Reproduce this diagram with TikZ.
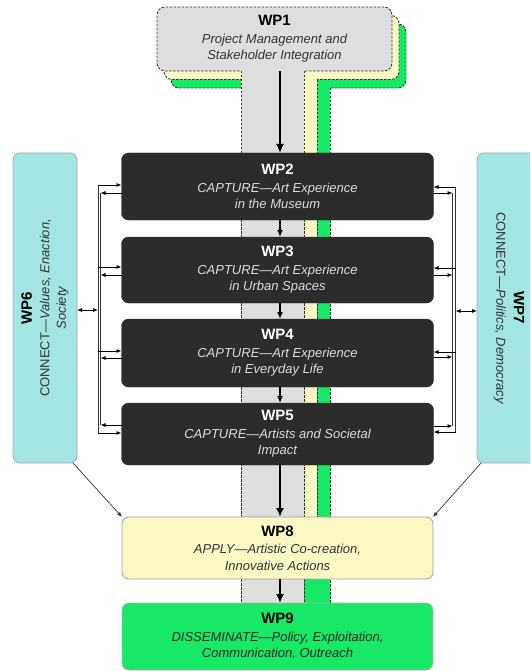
\documentclass[tikz,border=0pt]{standalone}
\usepackage{fontspec}
\setmainfont{Liberation Sans}
\usetikzlibrary{arrows.meta,calc}
\definecolor{wpgray}{HTML}{DEDEDE}
\definecolor{wpyellow}{HTML}{FBF8C4}
\definecolor{wpgreen}{HTML}{17E865}
\definecolor{wpcyan}{HTML}{A2E5E3}
\definecolor{wpdark}{HTML}{2C2C2C}
\definecolor{wpline}{HTML}{333333}
\definecolor{wpsubgray}{HTML}{DDDDDD}
\newcommand{\WPtitle}[1]{{\bfseries\fontsize{15}{18}\selectfont #1}}
\newcommand{\WPsub}{\itshape\fontsize{13}{16.5}\selectfont}
\begin{document}
\begin{tikzpicture}[x=1pt,y=-1pt,
  every node/.style={inner sep=0pt,outer sep=0pt},
  wptext/.style={align=center,font=\fontsize{13}{16.5}\selectfont},
  dashln/.style={draw=wpline,line width=0.9pt,dash pattern=on 2.5pt off 1.5pt},
  wponebox/.style={dashln,rounded corners=8pt,minimum width=235pt,minimum height=64pt},
  darkbox/.style={wptext,draw=wpdark,fill=wpdark,rounded corners=7pt,minimum width=312pt,text=white},
  lightbox/.style={wptext,draw=gray!75,line width=0.8pt,rounded corners=7pt,minimum width=311pt},
  sidebox/.style={draw=gray!70,line width=0.8pt,fill=wpcyan,rounded corners=7pt,minimum width=64pt,minimum height=310pt},
  busln/.style={draw=wpline,line width=0.8pt},
  sarr/.style={draw=black,line width=0.8pt,-{Latex[length=5pt,width=4pt]}},
  darr/.style={draw=black,line width=0.8pt,{Latex[length=5pt,width=4pt]}-{Latex[length=5pt,width=4pt]}},
  flowthin/.style={draw=black,line width=1.3pt,-{Latex[length=7pt,width=6pt]}},
  flowthick/.style={draw=black,line width=2.4pt,-{Latex[length=9pt,width=8pt]}},
  diag/.style={draw=wpline,line width=0.7pt,-{Latex[length=5pt,width=4pt]}}
]
\useasboundingbox (0,0) rectangle (530,671);
\clip (0,0) rectangle (530,671);

% layered WP1 backgrounds
\node[wponebox,fill=wpgreen] (wp1g) at (288.5,56) {};
\fill[wpgreen] (267,87) rectangle (330,603);
\draw[dashln] (267,88) -- (267,603) (330,88) -- (330,603);
\node[wponebox,fill=wpyellow] (wp1y) at (281.5,47.5) {};
\fill[wpyellow] (254,79) rectangle (317,517);
\draw[dashln] (254,80) -- (254,517) (317,80) -- (317,517);
\node[wponebox,fill=wpgray] (wp1) at (274.5,39) {};
\fill[wpgray] (241,70) rectangle (304,603);
\draw[dashln] (241,71) -- (241,603) (304,71) -- (304,603);
\node[wptext,text=black] (wp1t) at (274.5,39)
  {\WPtitle{WP1}\\[1pt] \WPsub\color{wpline}Project Management and\\ \WPsub\color{wpline}Stakeholder Integration};

% CAPTURE boxes
\node[darkbox,minimum height=67pt] (wp2) at (277.5,186.5)
  {\WPtitle{WP2}\\[1pt] \WPsub\color{wpsubgray}CAPTURE—Art Experience\\ \WPsub\color{wpsubgray}in the Museum};
\node[darkbox,minimum height=66pt] (wp3) at (277.5,270)
  {\WPtitle{WP3}\\[1pt] \WPsub\color{wpsubgray}CAPTURE—Art Experience\\ \WPsub\color{wpsubgray}in Urban Spaces};
\node[darkbox,minimum height=68pt] (wp4) at (277.5,353)
  {\WPtitle{WP4}\\[1pt] \WPsub\color{wpsubgray}CAPTURE—Art Experience\\ \WPsub\color{wpsubgray}in Everyday Life};
\node[darkbox,minimum height=62pt] (wp5) at (277.5,434)
  {\WPtitle{WP5}\\[1pt] \WPsub\color{wpsubgray}CAPTURE—Artists and Societal\\ \WPsub\color{wpsubgray}Impact};

% APPLY / DISSEMINATE
\node[lightbox,fill=wpyellow,minimum height=62pt] (wp8) at (277.5,548)
  {\WPtitle{WP8}\\[1pt] \WPsub\color{wpline}APPLY—Artistic Co-creation,\\ \WPsub\color{wpline}Innovative Actions};
\node[lightbox,fill=wpgreen,draw=gray!60,minimum height=67pt] (wp9) at (277.5,636.5)
  {\WPtitle{WP9}\\[1pt] \WPsub\color{black!85}DISSEMINATE—Policy, Exploitation,\\ \WPsub\color{black!85}Communication, Outreach};

% CONNECT boxes
\node[sidebox] (wp6) at (45,308) {};
\node[wptext,rotate=90] (wp6t) at (wp6.center)
  {\WPtitle{WP6}\\[1pt] \WPsub\color{wpline}{\upshape CONNECT}—Values, Enaction,\\ \WPsub\color{wpline}Society};
\node[sidebox] (wp7) at (509,308) {};
\node[wptext,rotate=-90] (wp7t) at (wp7.center)
  {\WPtitle{WP7}\\[1pt] \WPsub\color{wpline}{\upshape CONNECT}—Politics, Democracy};

% main flow arrows
\coordinate (ax) at (280,0);
\draw[flowthick] (wp1.south -| ax) -- (wp2.north -| ax);
\draw[flowthin] (wp2.south -| ax) -- (wp3.north -| ax);
\draw[flowthin] (wp3.south -| ax) -- (wp4.north -| ax);
\draw[flowthin] (wp4.south -| ax) -- (wp5.north -| ax);
\draw[flowthick] (wp5.south -| ax) -- (wp8.north -| ax);
\draw[flowthick] (wp8.south -| ax) -- (wp9.north -| ax);

% left bus
\coordinate (lbo) at (98,0);
\coordinate (lbi) at (100.5,0);
\draw[busln] (lbo |- 0,185) -- (lbo |- 0,433);
\draw[busln] (lbi |- 0,193) -- (lbi |- 0,425);
\draw[sarr] (lbo |- 0,185) -- (wp2.west |- 0,185);
\draw[sarr] (wp2.west |- 0,193) -- (lbi |- 0,193);
\draw[sarr] (lbo |- 0,267) -- (wp3.west |- 0,267);
\draw[sarr] (wp3.west |- 0,275) -- (lbi |- 0,275);
\draw[sarr] (lbo |- 0,351) -- (wp4.west |- 0,351);
\draw[sarr] (wp4.west |- 0,358) -- (lbi |- 0,358);
\draw[sarr] (wp5.west |- 0,425) -- (lbi |- 0,425);
\draw[sarr] (lbo |- 0,433) -- (wp5.west |- 0,433);
\draw[darr] (wp6.east |- 0,310) -- (lbo |- 0,310);

% right bus
\coordinate (rbo) at (455.5,0);
\coordinate (rbi) at (452.5,0);
\draw[busln] (rbo |- 0,187) -- (rbo |- 0,432);
\draw[busln] (rbi |- 0,193) -- (rbi |- 0,426);
\draw[sarr] (rbo |- 0,187) -- (wp2.east |- 0,187);
\draw[sarr] (wp2.east |- 0,193) -- (rbi |- 0,193);
\draw[sarr] (rbo |- 0,268) -- (wp3.east |- 0,268);
\draw[sarr] (wp3.east |- 0,275) -- (rbi |- 0,275);
\draw[sarr] (rbo |- 0,352) -- (wp4.east |- 0,352);
\draw[sarr] (wp4.east |- 0,357) -- (rbi |- 0,357);
\draw[sarr] (wp5.east |- 0,426) -- (rbi |- 0,426);
\draw[sarr] (rbo |- 0,432) -- (wp5.east |- 0,432);
\draw[darr] (rbo |- 0,311) -- (wp7.west |- 0,311);

% CONNECT -> APPLY
\draw[diag] ([xshift=-4pt]wp6.south east) -- (wp8.north west);
\draw[diag] ([xshift=4pt]wp7.south west) -- (wp8.north east);
\end{tikzpicture}
\end{document}
